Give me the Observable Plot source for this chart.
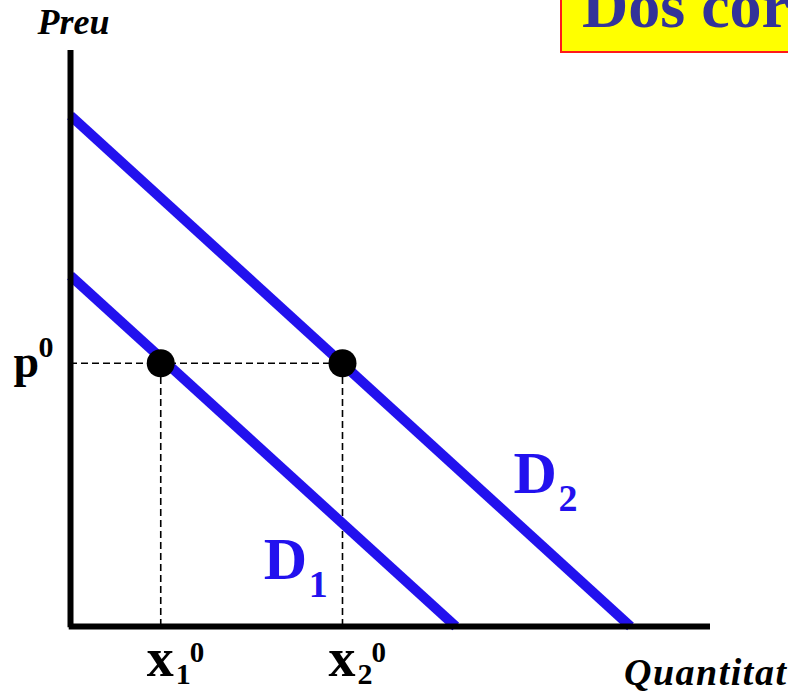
<!DOCTYPE html>
<html>
<head>
<meta charset="utf-8">
<script src="https://cdn.jsdelivr.net/npm/d3@7"></script>
<script src="https://cdn.jsdelivr.net/npm/@observablehq/plot@0.6"></script>
<style>
  html, body { margin: 0; padding: 0; background: #fff; overflow: hidden; width: 788px; height: 699px; }
  #wrap { position: relative; width: 788px; height: 699px; overflow: hidden; }
  #titlebox { position: absolute; left: 560px; top: -10px; width: 320px; height: 63px; box-sizing: border-box;
    background: #ffff00; border: 2.5px solid #ff1a1a; z-index: 2; }
  #title { position: absolute; left: 582px; top: -26px; font: bold 64px "Liberation Serif", serif; line-height: 64px;
    color: #333399; white-space: nowrap; z-index: 3; margin: 0; }
  #chart { position: absolute; left: 0; top: 0; }
</style>
</head>
<body>
<div id="wrap">
  <div id="titlebox"></div>
  <h1 id="title">Dos corbes de demanda</h1>
  <div id="chart"></div>
</div>
<script>
// Demand curves: price intercept and quantity intercept
const curveNames = ["D1", "D2"];
const priceIntercepts = [6.09, 8.87];
const quantityIntercepts = [6.02, 8.75];

// Equilibrium price and quantities
const p0 = 4.57;
const quantities = [1.41, 4.25];
const quantityLabels = ["1", "2"];

// Curve label positions (data units)
const curveLabelQ = [3.02, 6.92];
const curveLabelP = [0.83, 2.31];

const blue = "#2211ee";
const serif = "Liberation Serif, Times New Roman, serif";

const lines = curveNames.flatMap((name, i) => [
  {name, q: 0, p: priceIntercepts[i]},
  {name, q: quantityIntercepts[i], p: 0}
]);
const points = quantities.map(q => ({q, p: p0}));
const qLabels = quantities.map((q, i) => ({q, sub: quantityLabels[i]}));
const cLabels = curveNames.map((name, i) => ({q: curveLabelQ[i], p: curveLabelP[i], main: name[0], sub: name.slice(1)}));

const chart = Plot.plot({
  width: 788,
  height: 699,
  marginLeft: 70,
  marginRight: 78,
  marginTop: 50,
  marginBottom: 73,
  x: {domain: [0, 10], axis: null},
  y: {domain: [0, 10], axis: null},
  style: {background: "transparent", overflow: "visible"},
  marks: [
    // dashed guides
    Plot.ruleY([p0], {x1: 0, x2: quantities[1], stroke: "black", strokeWidth: 1.6, strokeDasharray: "7,4"}),
    Plot.ruleX(quantities, {y1: 0, y2: p0, stroke: "black", strokeWidth: 1.6, strokeDasharray: "7,4"}),
    // demand curves
    Plot.line(lines, {x: "q", y: "p", z: "name", stroke: blue, strokeWidth: 10, strokeLinecap: "butt"}),
    // axes
    Plot.ruleX([0], {y1: -0.02, y2: 10, stroke: "black", strokeWidth: 6}),
    Plot.ruleY([0], {x1: -0.02, x2: 10, stroke: "black", strokeWidth: 6}),
    // equilibrium points
    Plot.dot(points, {x: "q", y: "p", r: 14, fill: "black"}),
    // axis titles
    Plot.text(["Preu"], {x: 0, y: 10, dx: 3, dy: -17, lineAnchor: "bottom", textAnchor: "middle",
      fontFamily: serif, fontSize: 36, fontWeight: "bold", fontStyle: "italic", fill: "black"}),
    Plot.text(["Quantitat"], {x: 10, y: 0, dx: 77, dy: 58, lineAnchor: "bottom", textAnchor: "end",
      fontFamily: serif, fontSize: 38, fontWeight: "bold", fontStyle: "italic", fill: "black"}),
    // price tick label p^0
    Plot.text(["p"], {x: 0, y: p0, dx: -57, dy: 14, lineAnchor: "bottom", textAnchor: "start",
      fontFamily: serif, fontSize: 46, fontWeight: "bold", fill: "black"}),
    Plot.text(["0"], {x: 0, y: p0, dx: -32, dy: -6, lineAnchor: "bottom", textAnchor: "start",
      fontFamily: serif, fontSize: 30, fontWeight: "bold", fill: "black"}),
    // quantity tick labels x_i^0
    Plot.text(qLabels, {x: "q", y: 0, text: () => "x", dx: -14, dy: 49, lineAnchor: "bottom", textAnchor: "start",
      fontFamily: serif, fontSize: 54, fontWeight: "bold", fill: "black"}),
    Plot.text(qLabels, {x: "q", y: 0, text: "sub", dx: 15, dy: 57, lineAnchor: "bottom", textAnchor: "start",
      fontFamily: serif, fontSize: 30, fontWeight: "bold", fill: "black"}),
    Plot.text(qLabels, {x: "q", y: 0, text: () => "0", dx: 29, dy: 35, lineAnchor: "bottom", textAnchor: "start",
      fontFamily: serif, fontSize: 29, fontWeight: "bold", fill: "black"}),
    // curve labels
    Plot.text(cLabels, {x: "q", y: "p", text: "main", lineAnchor: "bottom", textAnchor: "start",
      fontFamily: serif, fontSize: 60, fontWeight: "bold", fill: blue}),
    Plot.text(cLabels, {x: "q", y: "p", text: "sub", dx: 45, dy: 18, lineAnchor: "bottom", textAnchor: "start",
      fontFamily: serif, fontSize: 38, fontWeight: "bold", fill: blue})
  ]
});
document.getElementById("chart").appendChild(chart);
d3.select(chart).selectAll("text").filter(function() { return this.textContent === "Quantitat"; })
  .style("letter-spacing", "1.5px");
</script>
</body>
</html>
